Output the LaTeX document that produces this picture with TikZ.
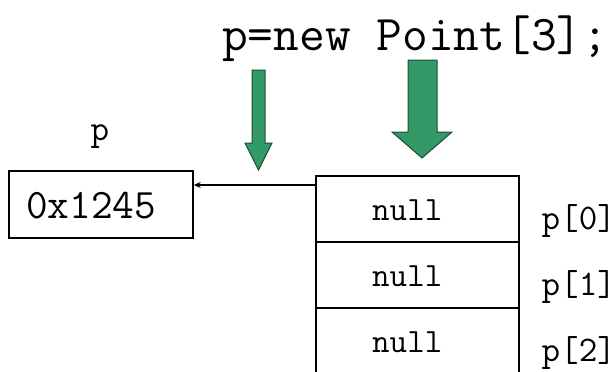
\documentclass[tikz,border=0pt]{standalone}
\usepackage{fontspec}
\usetikzlibrary{arrows.meta}
\definecolor{arrfill}{HTML}{339966}
\definecolor{arrline}{HTML}{1B4D32}
\tikzset{
  cellbox/.style={draw, line width=1.5pt, minimum width=203pt, minimum height=66pt, inner sep=0pt, anchor=north west},
  ptrbox/.style={draw, line width=1.5pt, minimum width=184pt, minimum height=67pt, inner sep=0pt},
  greenarrow/.style={fill=arrfill, draw=arrline, line width=1pt, line join=miter},
  labeltext/.style={font=\fontsize{36}{36}\ttfamily, inner sep=0pt},
}
\begin{document}
\begin{tikzpicture}[x=1pt,y=-1pt]
\useasboundingbox (0,0) rectangle (616,372);
% title
\node[font=\fontsize{50}{50}\ttfamily, inner sep=0pt, anchor=base west] (code) at (222,50) {p=new Point[3];};
% green arrows
\draw[greenarrow] (252,70) -- (265,70) -- (265,143) -- (272,143) -- (258.5,170) -- (245,143) -- (252,143) -- cycle;
\draw[greenarrow] (408,60) -- (437,60) -- (437,132) -- (452,132) -- (422,158) -- (392,132) -- (408,132) -- cycle;
% pointer variable
\node[labeltext] (plabel) at (100,137) {p};
\node[ptrbox] (ptr) at (101,204.5) {};
\node[font=\fontsize{42}{42}\ttfamily, inner sep=0pt] (ptrval) at (91,206) {0x1245};
% array cells
\node[cellbox] (c0) at (315,175) {};
\node[cellbox] (c1) at (315,241) {};
\node[cellbox] (c2) at (315,307) {};
\foreach \i in {0,1,2}{
  \node[font=\fontsize{34}{34}\ttfamily, inner sep=0pt] (n\i) at ([xshift=-10pt,yshift=-1pt]c\i.center) {null};
  \node[labeltext, anchor=west] (l\i) at ([xshift=22pt,yshift=-12pt]c\i.east) {p[\i]};
}
% reference connector
\coordinate (src) at (315,185);
\draw[line width=1.3pt, -{Stealth[length=7pt,width=6pt]}] (src) -- (ptr.east |- src);
\end{tikzpicture}
\end{document}
